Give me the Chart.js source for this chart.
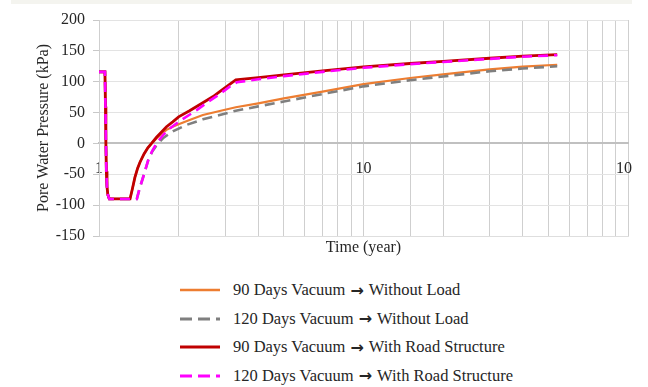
<!DOCTYPE html>
<html>
<head>
<meta charset="utf-8">
<title>Pore water pressure over time</title>
<script src="https://cdn.jsdelivr.net/npm/chart.js@4/dist/chart.umd.min.js"></script>
<style>
  html, body { margin: 0; padding: 0; background: #fff; }
  body {
    width: 648px; height: 387px; position: relative; overflow: hidden;
    font-family: 'Liberation Serif', 'Times New Roman', serif; color: #262626;
  }
  #band { position: absolute; left: 11px; top: 0; width: 621px; height: 4px; background: #f4f4ef; }
  #frame { position: absolute; left: 0; top: 0; width: 632px; height: 262px; overflow: hidden; }
  #frame canvas { display: block; }
  .row { position: absolute; left: 180px; height: 28px; display: flex; align-items: center; font-size: 16.5px; white-space: nowrap; }
  .row svg { width: 40px; height: 8px; margin-right: 13px; flex: none; }
  .arrow { font-family: 'DejaVu Sans', sans-serif; font-weight: bold; font-size: 16px; margin: 0 5px 0 5px; }
</style>
</head>
<body>
<div id="band"></div>
<div id="frame"><canvas id="chart" width="648" height="262"></canvas></div>
<div id="legend"></div>

<script>
// Series names: vacuum duration, then what follows it
const vacuumLabels = ['90 Days Vacuum', '120 Days Vacuum', '90 Days Vacuum', '120 Days Vacuum'];
const afterLabels  = ['Without Load', 'Without Load', 'With Road Structure', 'With Road Structure'];
const seriesNames  = vacuumLabels.map((v, i) => v + ' \u2192 ' + afterLabels[i]);

// Shared start: initial pressure, then the drop when vacuum is switched on
const timeDrop = [1, 1.053, 1.058, 1.062, 1.066, 1.072, 1.08, 1.094];
const pwpDrop  = [116, 116, 60, 0, -45, -70, -83, -90];

// 90 days vacuum, no load afterwards (time in years, pressure in kPa)
const timeNoLoad90 = [1.31, 1.335, 1.367, 1.40, 1.43, 1.48, 1.53, 1.58, 1.65, 1.72, 1.8, 1.9, 2.0, 2.2, 2.47, 2.86, 3.29, 4, 5, 7, 10, 15, 20, 30, 40, 54];
const pwpNoLoad90  = [-90, -75, -55, -40, -30, -17, -7, 0, 8, 15, 22, 27, 31, 38, 46, 52.6, 58.6, 65, 73, 84, 96, 106, 112, 120, 124.5, 127.5];

// 120 days vacuum, no load afterwards
const timeNoLoad120 = [1.39, 1.42, 1.47, 1.535, 1.59, 1.65, 1.75, 1.91, 2.14, 2.47, 2.86, 3.29, 4, 5, 7, 10, 15, 20, 30, 40, 54];
const pwpNoLoad120  = [-90, -75, -54, -27, -13, -3, 9, 20, 30, 39, 46, 53, 60, 68, 80, 92.5, 102.5, 108.5, 117, 121.5, 125];

// 90 days vacuum, then road structure placed
const timeRoad90 = [1.31, 1.335, 1.367, 1.40, 1.43, 1.48, 1.53, 1.58, 1.65, 1.72, 1.8, 1.9, 2.0, 2.2, 2.47, 2.7, 2.86, 3.29, 4, 5, 7, 10, 15, 20, 30, 40, 54];
const pwpRoad90  = [-90, -75, -55, -40, -30, -17, -7, 0, 10, 18, 27, 35, 43, 53, 66, 76, 84, 103, 106.5, 111, 117.5, 124, 129.5, 133, 138, 141.5, 144];

// 120 days vacuum, then road structure placed
const timeRoad120 = [1.39, 1.42, 1.47, 1.535, 1.59, 1.65, 1.75, 1.85, 2.0, 2.34, 2.6, 2.86, 3.12, 3.32, 4, 5, 7, 10, 15, 20, 30, 40, 54];
const pwpRoad120  = [-90, -75, -54, -27, -12, 0, 14, 24, 35, 54, 68, 80, 92, 99, 104, 109, 116, 122.5, 128.5, 132, 137, 140.5, 143];

// Axis ranges
const timeMin = 1, timeMax = 100;
const pwpMin = -150, pwpMax = 200, pwpStep = 50;

const toPoints = (ts, ps) => ts.map((t, i) => ({ x: t, y: ps[i] }));
const withDrop = (ts, ps) => toPoints(timeDrop.concat(ts), pwpDrop.concat(ps));

const colors = ['#ED7D31', '#7F7F7F', '#C00000', '#FF00FF'];
const dashes = [[], [10, 6], [], [10, 6]];
const widths = [2.2, 2.6, 2.8, 2.6];

const serif = "'Liberation Serif', 'Times New Roman', serif";
const textColor = '#262626';

const seriesData = [
  withDrop(timeNoLoad90, pwpNoLoad90),
  withDrop(timeNoLoad120, pwpNoLoad120),
  withDrop(timeRoad90, pwpRoad90),
  withDrop(timeRoad120, pwpRoad120)
];

const datasets = seriesData.map((pts, i) => ({
  label: seriesNames[i],
  data: pts,
  borderColor: colors[i],
  backgroundColor: colors[i],
  borderWidth: widths[i],
  borderDash: dashes[i],
  pointRadius: 0,
  tension: 0,
  fill: false,
  // dashed series sit above their solid partner; road-structure pair on top
  order: 4 - i
}));

const isPowerOfTen = v => Math.abs(Math.log10(v) - Math.round(Math.log10(v))) < 1e-9;

new Chart(document.getElementById('chart'), {
  type: 'line',
  data: { datasets },
  options: {
    responsive: false,
    animation: false,
    events: [],
    layout: { padding: { left: 25, right: 19, top: 20, bottom: 0 } },
    plugins: { legend: { display: false }, tooltip: { enabled: false } },
    scales: {
      x: {
        type: 'logarithmic',
        min: timeMin, max: timeMax,
        position: 'bottom',
        grid: { color: '#cfcfcf', drawTicks: false },
        border: { display: true, color: '#dedede' },
        ticks: { display: false, autoSkip: false },
        title: {
          display: true, text: 'Time (year)', color: textColor,
          font: { family: serif, size: 16 }, padding: { top: 0, bottom: 5 }
        },
        afterFit(scale) { scale.height = 26; }
      },
      xZero: {
        type: 'logarithmic',
        axis: 'x',
        min: timeMin, max: timeMax,
        position: { y: 0 },
        grid: { display: false },
        border: { display: true, color: '#c0c0c0', width: 2 },
        ticks: {
          autoSkip: false, maxRotation: 0, padding: 8, color: textColor,
          font: { family: serif, size: 16 },
          callback: v => (isPowerOfTen(v) ? String(v) : '')
        }
      },
      y: {
        min: pwpMin, max: pwpMax,
        ticks: { stepSize: pwpStep, padding: 8, color: textColor, font: { family: serif, size: 16 } },
        grid: { color: '#e3e3e3', tickLength: 6, tickColor: '#c8c8c8' },
        border: { display: true, color: '#cfcfcf' },
        title: {
          display: true, text: 'Pore Water Pressure (kPa)', color: textColor,
          font: { family: serif, size: 16 }, padding: { top: 9, bottom: 0 }
        },
        afterFit(scale) { scale.width = 74; }
      }
    }
  }
});

// Legend: one series per row under the plot
const legend = document.getElementById('legend');
seriesNames.forEach((name, i) => {
  const row = document.createElement('div');
  row.className = 'row';
  row.style.top = (276 + i * 28.5) + 'px';
  const dash = dashes[i].length ? ' stroke-dasharray="12 6"' : '';
  row.innerHTML =
    '<svg viewBox="0 0 40 8"><line x1="0" y1="4" x2="40" y2="4" stroke="' + colors[i] +
    '" stroke-width="' + (i === 0 ? 2.6 : 3) + '"' + dash + '/></svg>' +
    '<span class="v"></span><span class="arrow">\u2192</span><span class="a"></span>';
  row.querySelector('.v').textContent = vacuumLabels[i];
  row.querySelector('.a').textContent = afterLabels[i];
  legend.appendChild(row);
});
</script>
</body>
</html>
